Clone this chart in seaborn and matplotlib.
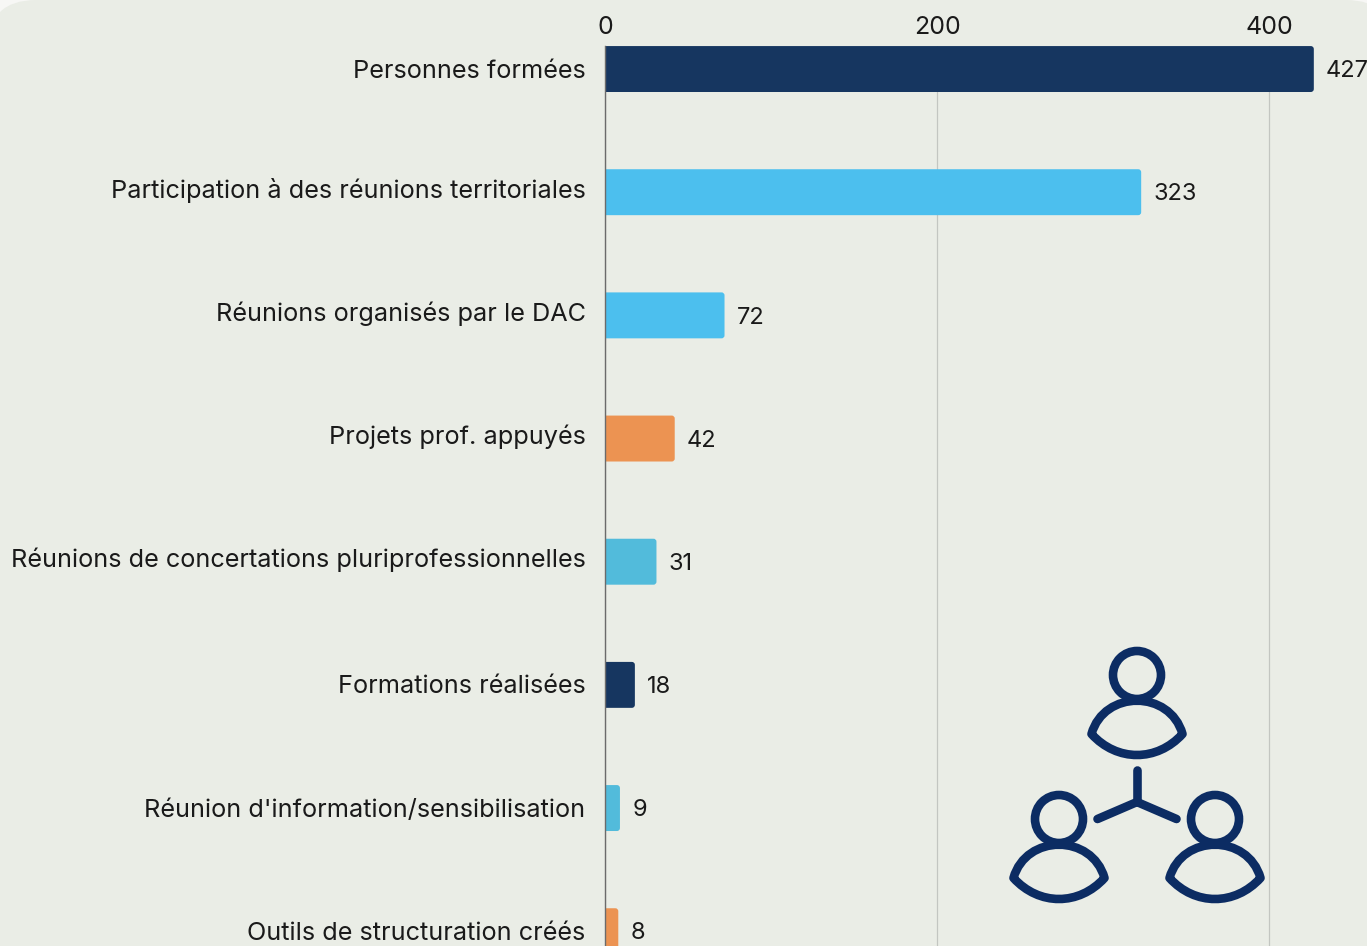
import matplotlib
matplotlib.use('Agg')
import matplotlib.pyplot as plt
import seaborn as sns
import pandas as pd
from matplotlib.patches import FancyBboxPatch, Circle, PathPatch
from matplotlib.path import Path
from matplotlib.transforms import ScaledTranslation

categories = ['Personnes formées', 'Participation à des réunions territoriales',
              'Réunions organisés par le DAC', 'Projets prof. appuyés',
              'Réunions de concertations pluriprofessionnelles', 'Formations réalisées',
              "Réunion d'information/sensibilisation", 'Outils de structuration créés']
values = [427, 323, 72, 42, 31, 18, 9, 8]
colors = ['#163660', '#4CBFEE', '#4CBFEE', '#EC9352', '#52BBDB', '#163660', '#52BBDB', '#EC9352']
x_ticks = [0, 200, 400]

PANEL = '#EAEDE6'
NAVY = '#0C2C63'
TEXT = '#1A1A1A'

sns.set_theme(style='white')
plt.rcParams['font.family'] = ['Inter', 'DejaVu Sans']

W, H = 1367, 946
fig = plt.figure(figsize=(W / 100, H / 100), dpi=100, facecolor='#F7F7F5')

# background panel and icon, drawn in pixel coordinates
bg = fig.add_axes([0, 0, 1, 1], zorder=0)
bg.set_xlim(0, W)
bg.set_ylim(H, 0)
bg.axis('off')
bg.add_patch(FancyBboxPatch((-12, 0), W + 39, H + 100, boxstyle='round,pad=0,rounding_size=48',
                            facecolor=PANEL, edgecolor='none'))

lw = 6.2


def person(cx, cy):
    bg.add_patch(Circle((cx, cy), 24, facecolor='none', edgecolor=NAVY, linewidth=lw))
    verts = [(cx - 45.5, cy + 59), (cx - 33, cy + 14.6), (cx + 33, cy + 14.6), (cx + 45.5, cy + 59),
             (cx + 20, cy + 87), (cx - 20, cy + 87), (cx - 45.5, cy + 59), (cx - 45.5, cy + 59)]
    codes = [Path.MOVETO, Path.CURVE4, Path.CURVE4, Path.CURVE4,
             Path.CURVE4, Path.CURVE4, Path.CURVE4, Path.CLOSEPOLY]
    bg.add_patch(PathPatch(Path(verts, codes), facecolor='none', edgecolor=NAVY,
                           linewidth=lw, joinstyle='round'))


person(1137, 675)
person(1059, 819)
person(1215, 819)
for end in [(1137, 770), (1097.5, 819), (1176.5, 819)]:
    bg.plot([1137, end[0]], [802, end[1]], color=NAVY, lw=lw, solid_capstyle='round')

# chart axes: 0 sits at x=605, first bar top at y=46
ax = fig.add_axes([605 / W, 0, (W - 605) / W, (H - 46) / H], zorder=1)
ax.patch.set_alpha(0)

df = pd.DataFrame({'category': categories, 'value': values})
sns.barplot(data=df, x='value', y='category', hue='category', palette=colors,
            saturation=1, legend=False, width=0.373, ax=ax, zorder=3)

ax.set_xlim(0, (W - 605) / 1.66)
ax.set_ylim(7.12, -0.187)
ax.set_xlabel('')
ax.set_ylabel('')
ax.xaxis.tick_top()
ax.set_xticks(x_ticks)
ax.grid(axis='x', color='#C3C6C1', linewidth=0.9)
ax.set_axisbelow(True)
ax.tick_params(axis='x', length=0, pad=5, labelsize=18, labelcolor=TEXT)
ax.tick_params(axis='y', length=0, pad=14, labelsize=18.2, labelcolor=TEXT)
for side in ['top', 'right', 'bottom']:
    ax.spines[side].set_visible(False)
ax.spines['left'].set_color('#6B6B6B')
ax.spines['left'].set_linewidth(1)
ax.spines['left'].set_zorder(5)

# labels with descenders sit a little higher in the original
for lab in ax.get_yticklabels():
    lab.set_va('center')
    shift = 2 / 100 if any(c in lab.get_text() for c in 'gjpqy') else -2 / 100
    lab.set_transform(lab.get_transform() + ScaledTranslation(0, shift, fig.dpi_scale_trans))

# swap the square bars for boxes rounded on the right, left end clipped by the axes
per_px_x = 1 / 1.66
per_px_y = (7.12 + 0.187) / (H - 46)
for container in ax.containers:
    for t in ax.bar_label(container, fmt='%d', padding=8.8, fontsize=17, color=TEXT, clip_on=False):
        t.xyann = (t.xyann[0], -1.6)
    for bar in container:
        x, y, w, h = bar.get_x(), bar.get_y(), bar.get_width(), bar.get_height()
        box = FancyBboxPatch((x - 6 * per_px_x, y), w + 6 * per_px_x, h,
                             boxstyle=f'round,pad=0,rounding_size={3 * per_px_x}',
                             mutation_aspect=per_px_y / per_px_x,
                             facecolor=bar.get_facecolor(), edgecolor='none', zorder=3)
        ax.add_patch(box)
        bar.set_visible(False)

fig.savefig('out.png', dpi=100, facecolor=fig.get_facecolor())
